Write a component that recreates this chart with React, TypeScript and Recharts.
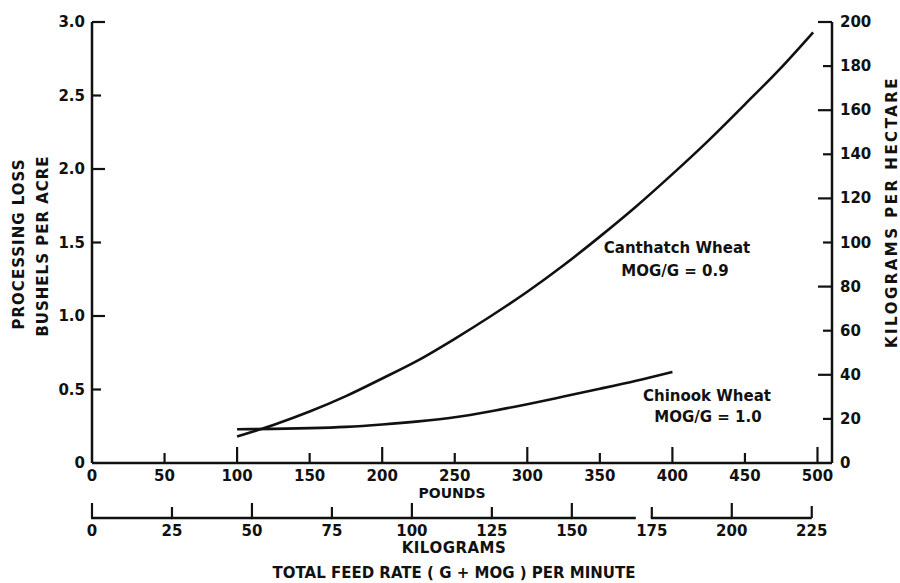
import React from 'react';
import { LineChart, Line, XAxis, YAxis } from 'recharts';

// feed rate in pounds per minute
const poundTicks = [0, 50, 100, 150, 200, 250, 300, 350, 400, 450, 500];
const kgTicks = [0, 25, 50, 75, 100, 125, 150, 175, 200, 225];
const lossTicks = [0, 0.5, 1, 1.5, 2, 2.5, 3];
const kgHaTicks = [0, 20, 40, 60, 80, 100, 120, 140, 160, 180, 200];

const canthatchFeed = [100, 125, 150, 175, 200, 225, 250, 275, 300, 325, 350, 375, 400, 425, 450, 475, 497];
const canthatchLoss = [0.18, 0.259, 0.35, 0.455, 0.575, 0.7, 0.845, 1.0, 1.165, 1.345, 1.54, 1.745, 1.965, 2.195, 2.44, 2.69, 2.93];

const chinookFeed = [100, 125, 150, 175, 200, 225, 250, 275, 300, 325, 350, 375, 400];
const chinookLoss = [0.23, 0.232, 0.237, 0.246, 0.262, 0.283, 0.311, 0.352, 0.4, 0.452, 0.505, 0.56, 0.62];

const LB_TO_KG = 0.45359;
const BU_TO_KGHA = 67.25;

const canthatchData = canthatchFeed.map((lb, i) => ({ lb, loss: canthatchLoss[i] }));
const chinookData = chinookFeed.map((lb, i) => ({ lb, loss: chinookLoss[i] }));
// same curve in metric units, only to feed the kilogram axes
const canthatchMetric = canthatchFeed.map((lb, i) => ({ kg: lb * LB_TO_KG, kgha: canthatchLoss[i] * BU_TO_KGHA }));

const W = 900;
const H = 583;
const M = { top: 22, right: 28, bottom: 25, left: 40 };
const LEFT_W = 52;
const RIGHT_W = 40;
const LB_H = 55;
const KG_H = 40;
const LB_MAX = 510;
const KG_MAX = LB_MAX * LB_TO_KG;
const PLOT_X = M.left + LEFT_W;
const PLOT_W = W - M.left - LEFT_W - M.right - RIGHT_W;
const PLOT_BOTTOM = H - M.bottom - KG_H - LB_H;
const KG_STEP = (PLOT_W * 25) / KG_MAX;
const lbToX = (lb: number) => PLOT_X + (lb / LB_MAX) * PLOT_W;

const INK = '#111';
const FONT = "'DejaVu Sans', sans-serif";
const txt = { fontFamily: FONT, fontSize: 15, fontWeight: 700, fill: INK } as const;

const poundTickLen = (v: number) => (v === 0 ? 0 : v % 100 === 0 ? 16 : 10);

const LeftTick = (props: any) => {
  const { x, y, payload } = props;
  const v = payload.value;
  const len = v === 0 ? 0 : Number.isInteger(v) ? 13 : 9;
  return (
    <g>
      {len > 0 && <line x1={x} y1={y} x2={x + len} y2={y} stroke={INK} strokeWidth={2.2} />}
      <text x={x - 7} y={y} textAnchor="end" dominantBaseline="central" {...txt}>
        {v === 0 ? '0' : v.toFixed(1)}
      </text>
    </g>
  );
};

const RightTick = (props: any) => {
  const { x, y, payload } = props;
  const v = payload.value;
  const len = v === 0 ? 0 : v % 40 === 0 ? 14 : 9;
  return (
    <g>
      {len > 0 && <line x1={x} y1={y} x2={x - len} y2={y} stroke={INK} strokeWidth={2.2} />}
      <text x={x + 8} y={y} textAnchor="start" dominantBaseline="central" {...txt}>
        {v}
      </text>
    </g>
  );
};

const PoundTick = (props: any) => {
  const { x, y, payload } = props;
  return (
    <text x={x} y={y + 13} textAnchor="middle" dominantBaseline="central" {...txt}>
      {payload.value}
    </text>
  );
};

const KgTick = (props: any) => {
  const { x, y, payload } = props;
  const v = payload.value;
  const len = v === 225 ? 12 : v % 50 === 0 ? 15 : 11;
  const seg = v === 225 ? 0 : v === 150 ? KG_STEP * 0.8 : KG_STEP;
  return (
    <g>
      <line x1={x} y1={y} x2={x} y2={y - len} stroke={INK} strokeWidth={2.2} />
      {seg > 0 && <line x1={x - 1} y1={y} x2={x + seg} y2={y} stroke={INK} strokeWidth={2.4} />}
      <text x={x} y={y + 13} textAnchor="middle" dominantBaseline="central" {...txt}>
        {v}
      </text>
    </g>
  );
};

export default function App() {
  return (
    <div style={{ position: 'absolute', left: 0, top: 0, width: W, height: H, background: '#fff' }}>
      <LineChart width={W} height={H} margin={M}>
        <XAxis
          xAxisId={0}
          dataKey="lb"
          type="number"
          domain={[0, LB_MAX]}
          ticks={poundTicks}
          interval={0}
          height={LB_H}
          tickSize={0}
          tickMargin={0}
          tickLine={false}
          tick={<PoundTick />}
          axisLine={{ stroke: INK, strokeWidth: 2.5 }}
        />
        <XAxis
          xAxisId={1}
          dataKey="kg"
          type="number"
          domain={[0, KG_MAX]}
          ticks={kgTicks}
          interval={0}
          height={KG_H}
          tickSize={0}
          tickMargin={0}
          tickLine={false}
          tick={<KgTick />}
          axisLine={false}
        />
        <YAxis
          yAxisId="left"
          type="number"
          domain={[0, 3]}
          ticks={lossTicks}
          interval={0}
          width={LEFT_W}
          tickSize={0}
          tickMargin={0}
          tickLine={false}
          tick={<LeftTick />}
          axisLine={{ stroke: INK, strokeWidth: 2.5 }}
        />
        <YAxis
          yAxisId="right"
          orientation="right"
          dataKey="kgha"
          type="number"
          domain={[0, 200]}
          ticks={kgHaTicks}
          interval={0}
          width={RIGHT_W}
          tickSize={0}
          tickMargin={0}
          tickLine={false}
          tick={<RightTick />}
          axisLine={{ stroke: INK, strokeWidth: 2.5 }}
        />
        <Line
          xAxisId={1}
          yAxisId="right"
          data={canthatchMetric}
          dataKey="kgha"
          type="monotone"
          stroke="none"
          dot={false}
          activeDot={false}
          isAnimationActive={false}
        />
        <Line
          xAxisId={0}
          yAxisId="left"
          data={canthatchData}
          dataKey="loss"
          type="monotone"
          stroke={INK}
          strokeWidth={2.6}
          dot={false}
          activeDot={false}
          isAnimationActive={false}
        />
        <Line
          xAxisId={0}
          yAxisId="left"
          data={chinookData}
          dataKey="loss"
          type="monotone"
          stroke={INK}
          strokeWidth={2.6}
          dot={false}
          activeDot={false}
          isAnimationActive={false}
        />
      </LineChart>
      <svg width={W} height={H} style={{ position: 'absolute', left: 0, top: 0, pointerEvents: 'none' }}>
        {/* inward tick marks of the pounds axis */}
        {poundTicks
          .filter((v) => poundTickLen(v) > 0)
          .map((v) => (
            <line
              key={v}
              x1={lbToX(v)}
              y1={PLOT_BOTTOM + 1}
              x2={lbToX(v)}
              y2={PLOT_BOTTOM - poundTickLen(v)}
              stroke={INK}
              strokeWidth={2.2}
            />
          ))}
        <text transform="translate(19,244) rotate(-90)" textAnchor="middle" dominantBaseline="central" {...txt} letterSpacing={1}>
          PROCESSING LOSS
        </text>
        <text transform="translate(43,246) rotate(-90)" textAnchor="middle" dominantBaseline="central" {...txt} letterSpacing={1}>
          BUSHELS PER ACRE
        </text>
        <text transform="translate(892,212) rotate(-90)" textAnchor="middle" dominantBaseline="central" {...txt} letterSpacing={2.5}>
          KILOGRAMS PER HECTARE
        </text>
        <text x={452} y={493} textAnchor="middle" dominantBaseline="central" {...txt} fontSize={14}>POUNDS</text>
        <text x={454} y={548} textAnchor="middle" dominantBaseline="central" {...txt} letterSpacing={0.5}>KILOGRAMS</text>
        <text x={454} y={573} textAnchor="middle" dominantBaseline="central" {...txt}>
          TOTAL FEED RATE ( G + MOG ) PER MINUTE
        </text>
        <text x={677} y={248} textAnchor="middle" dominantBaseline="central" {...txt}>Canthatch Wheat</text>
        <text x={675} y={271} textAnchor="middle" dominantBaseline="central" {...txt}>MOG/G = 0.9</text>
        <text x={707} y={396} textAnchor="middle" dominantBaseline="central" {...txt}>Chinook Wheat</text>
        <text x={708} y={417} textAnchor="middle" dominantBaseline="central" {...txt}>MOG/G = 1.0</text>
      </svg>
    </div>
  );
}
